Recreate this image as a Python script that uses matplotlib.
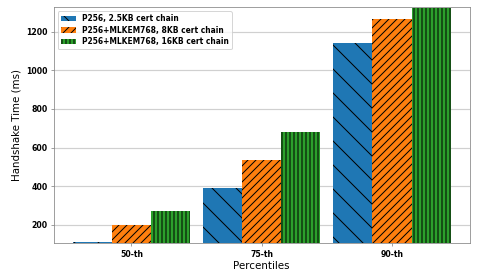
import numpy as np
import matplotlib
matplotlib.use('Agg')
import matplotlib.pyplot as plt

percentiles = ['50-th', '75-th', '90-th']
labels = ['P256, 2.5KB cert chain',
          'P256+MLKEM768, 8KB cert chain',
          'P256+MLKEM768, 16KB cert chain']
p256 = [110, 390, 1140]
mlkem_8kb = [200, 538, 1266]
mlkem_16kb = [274, 681, 1322]

series = [p256, mlkem_8kb, mlkem_16kb]
colors = ['#1f77b4', '#ff7f0e', '#2ca02c']
hatches = ['\\', '///', '|||']

fig = plt.figure(figsize=(481/72, 271/72), dpi=72)
ax = fig.add_axes([54/481, 1 - 243.3/271, (469.5-54)/481, (243.3-7.3)/271])

x = np.arange(len(percentiles))
width = 0.3
for i, (vals, lab) in enumerate(zip(series, labels)):
    ax.bar(x + (i - 1) * width, vals, width, color=colors[i], hatch=hatches[i],
           label=lab, zorder=3)

ax.set_ylim(105, 1326)
ax.set_xticks(x)
ax.set_xticklabels(percentiles, fontweight='bold', fontsize=7.8)
for t in ax.get_yticklabels():
    t.set_fontweight('bold')
    t.set_fontsize(7.8)
ax.set_xlabel('Percentiles', fontsize=10.2, labelpad=2)
ax.set_ylabel('Handshake Time (ms)', fontsize=10.2)
ax.yaxis.grid(True, color='#d0d0d0', linewidth=1.2, zorder=0)
for s in ax.spines.values():
    s.set_color('#888888')
ax.tick_params(colors='#888888', labelcolor='black', length=3)

ax.legend(loc='upper left', prop={'weight': 'bold', 'size': 7.5},
          labelspacing=0.35)

fig.savefig('out.png', dpi=72)
